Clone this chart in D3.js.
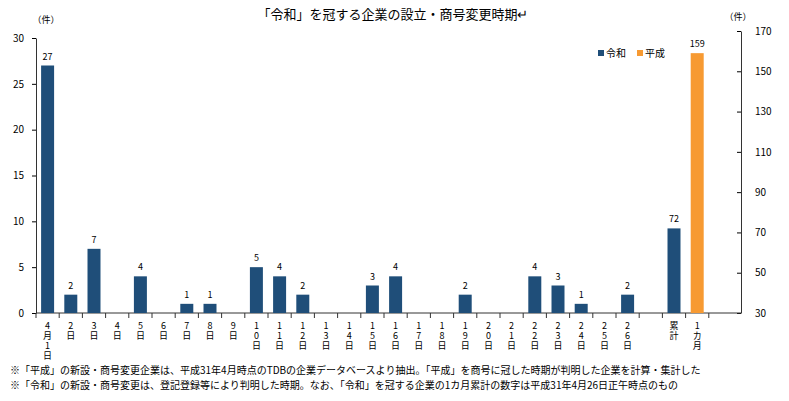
<!DOCTYPE html><html><head><meta charset="utf-8"><script src="https://cdn.jsdelivr.net/npm/d3@7"></script>
<style>body{margin:0;background:#fff}text{font-family:"Noto Sans CJK JP",sans-serif}</style></head><body><svg id="c" width="789" height="401"></svg>
<script>
const categories=["4月1日","2日","3日","4日","5日","6日","7日","8日","9日","10日","11日","12日","13日","14日","15日","16日","17日","18日","19日","20日","21日","22日","23日","24日","25日","26日","","累計","1カ月"];
const reiwaDaily=[27,2,7,0,4,0,1,1,0,5,4,2,0,0,3,4,0,0,2,0,0,4,3,1,0,2];
const reiwaTotal=72, heiseiMonth=159;
const leftTicks=[0,5,10,15,20,25,30], rightTicks=[30,50,70,90,110,130,150,170];
const svg=d3.select("#c");
const x=d3.scaleBand().domain(d3.range(30)).range([36,732]).paddingInner(0.44).paddingOuter(0.22);
const yL=d3.scaleLinear().domain([0,30]).range([313,38]);
const yR=d3.scaleLinear().domain([30,170]).range([313,31]);
const blue="#1f4e79",orange="#f79a32";
svg.append("text").attr("x",393).attr("y",19).attr("text-anchor","middle").attr("font-size",13).text("「令和」を冠する企業の設立・商号変更時期↵");
svg.append("text").attr("x",46).attr("y",23).attr("text-anchor","middle").attr("font-size",9).text("（件）");
svg.append("text").attr("x",738).attr("y",20).attr("text-anchor","middle").attr("font-size",9).text("（件）");
const gl=svg.append("g").attr("transform","translate(36,0)").call(d3.axisLeft(yL).tickValues(leftTicks).tickSize(4).tickSizeOuter(0));
gl.selectAll("text").attr("font-size",10).attr("x",-12);
const gr=svg.append("g").attr("transform","translate(741,0)").call(d3.axisLeft(yR).tickValues(rightTicks).tickSize(4).tickSizeOuter(0));
gr.selectAll("text").attr("font-size",10).attr("x",14).attr("text-anchor","start");
svg.selectAll(".domain").attr("stroke","#333");
svg.append("line").attr("x1",36).attr("x2",741).attr("y1",313).attr("y2",313).attr("stroke","#333");
const step=x.step();
for(let i=0;i<=29;i++){const xx=x(i)-x.paddingInner()*step/2;svg.append("line").attr("x1",xx).attr("x2",xx).attr("y1",313).attr("y2",318).attr("stroke","#333");}
const bars=reiwaDaily.map((v,i)=>({i,v,y:yL(v),c:blue}));
bars.push({i:27,v:reiwaTotal,y:yR(reiwaTotal),c:blue});
bars.push({i:28,v:heiseiMonth,y:yR(heiseiMonth),c:orange});
svg.selectAll("rect.b").data(bars).join("rect").attr("x",d=>x(d.i)).attr("width",x.bandwidth()).attr("y",d=>d.y).attr("height",d=>313-d.y).attr("fill",d=>d.c);
svg.selectAll("text.v").data(bars.filter(d=>d.v>0)).join("text").attr("x",d=>x(d.i)+x.bandwidth()/2).attr("y",d=>d.y-6).attr("text-anchor","middle").attr("font-size",9).text(d=>d.v);
categories.forEach((c,i)=>{if(!c)return;const cx=x(i)+x.bandwidth()/2;
[...c].forEach((ch,j)=>svg.append("text").attr("x",cx).attr("y",329+j*10).attr("text-anchor","middle").attr("font-size",9).text(ch));});
svg.append("rect").attr("x",598).attr("y",50).attr("width",6).attr("height",6).attr("fill",blue);
svg.append("text").attr("x",606).attr("y",57).attr("font-size",10).text("令和");
svg.append("rect").attr("x",637).attr("y",50).attr("width",6).attr("height",6).attr("fill",orange);
svg.append("text").attr("x",645).attr("y",57).attr("font-size",10).text("平成");
svg.append("text").attr("x",10).attr("y",374).attr("font-size",10).text("※「平成」の新設・商号変更企業は、平成31年4月時点のTDBの企業データベースより抽出。「平成」を商号に冠した時期が判明した企業を計算・集計した");
svg.append("text").attr("x",10).attr("y",389).attr("font-size",10).text("※「令和」の新設・商号変更は、登記登録等により判明した時期。なお、「令和」を冠する企業の1カ月累計の数字は平成31年4月26日正午時点のもの");
</script></body></html>
